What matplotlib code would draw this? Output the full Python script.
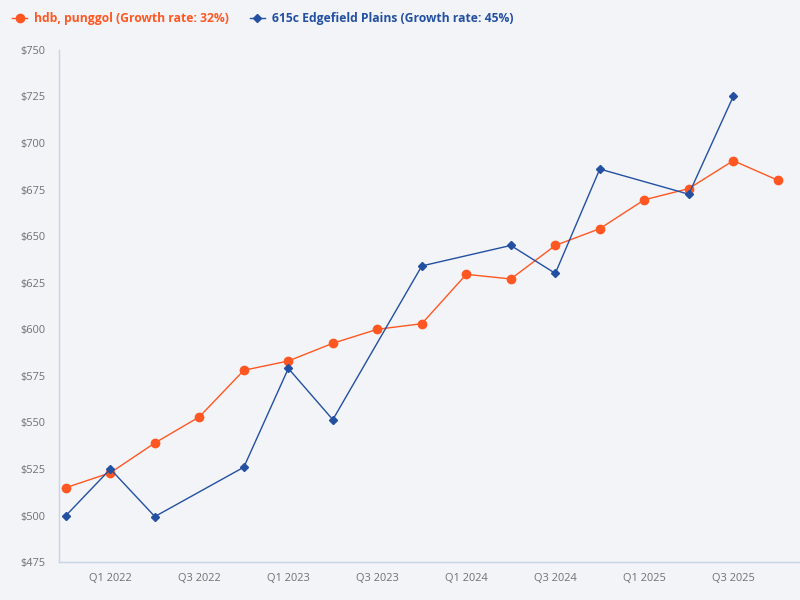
import matplotlib
matplotlib.use("Agg")
import matplotlib.pyplot as plt
import numpy as np

plt.rcParams["font.family"] = ["Open Sans", "Noto Sans", "DejaVu Sans"]

# quarters Q4 2021 .. Q4 2025
quarters = ["Q4 2021", "Q1 2022", "Q2 2022", "Q3 2022", "Q4 2022",
            "Q1 2023", "Q2 2023", "Q3 2023", "Q4 2023",
            "Q1 2024", "Q2 2024", "Q3 2024", "Q4 2024",
            "Q1 2025", "Q2 2025", "Q3 2025", "Q4 2025"]

hdb_punggol = [515, 523, 539, 553, 578, 583, 592.5, 600, 603,
               629.5, 627, 645, 654, 669.5, 675.5, 690.5, 680]

edgefield = [500, 525, 499.5, None, 526, 579, 551.5, None, 634,
             None, 645, 630, 686, None, 672.5, 725, None]

ORANGE = "#ff5722"
BLUE = "#2350a0"
BG = "#f2f4f7"

x = np.arange(len(quarters))
e = np.array([np.nan if v is None else v for v in edgefield], dtype=float)
mask = ~np.isnan(e)

fig = plt.figure(figsize=(8, 6), dpi=100, facecolor=BG)
ax = fig.add_axes([0.074, 0.063, 0.926, 0.854], facecolor=BG)

ax.plot(x, hdb_punggol, color=ORANGE, lw=1.0, marker="o", ms=6,
        label="hdb, punggol (Growth rate: 32%)", zorder=3)
ax.plot(x[mask], e[mask], color=BLUE, lw=1.0, marker="D", ms=4.5,
        label="615c Edgefield Plains (Growth rate: 45%)", zorder=4)

ax.set_ylim(475, 750)
ax.set_xlim(-0.15, 16.5)
ax.set_yticks(np.arange(475, 751, 25))
ax.set_yticklabels([f"${v}" for v in range(475, 751, 25)])
ax.set_xticks(x[1::2])
ax.set_xticklabels(quarters[1::2])
ax.tick_params(length=0, labelsize=7.9, colors="#707070", pad=8)
ax.tick_params(axis="y", pad=10)

for s in ("top", "right"):
    ax.spines[s].set_visible(False)
for s in ("left", "bottom"):
    ax.spines[s].set_color("#c9d4e6")
    ax.spines[s].set_linewidth(1.0)

leg = fig.legend(loc="upper left", bbox_to_anchor=(0.0, 1.0), ncol=2,
                 frameon=False, prop={"weight": "bold", "size": 8.7},
                 handlelength=1.25, handletextpad=0.6, columnspacing=1.7,
                 borderaxespad=0.6)
for txt, c in zip(leg.get_texts(), (ORANGE, BLUE)):
    txt.set_color(c)

fig.savefig("out.png", dpi=100, facecolor=BG)
